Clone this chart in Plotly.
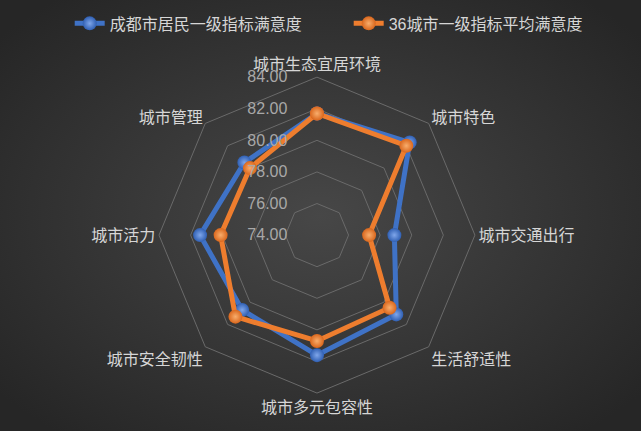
import plotly.graph_objects as go

# category labels, clockwise from top
categories = ["城市生态宜居环境", "城市特色", "城市交通出行", "生活舒适性",
              "城市多元包容性", "城市安全韧性", "城市活力", "城市管理"]

chengdu = [81.7, 82.3, 78.9, 81.1, 81.6, 80.7, 81.4, 80.5]
avg36 = [81.7, 82.0, 77.3, 80.5, 80.7, 81.3, 80.1, 80.0]

radial_ticks = [74, 76, 78, 80, 82, 84]
# padded so the labels sit a little left of the spoke, like excel does
radial_ticktext = [f"{v:.2f}" + "\u2007\u2007\u2007\u200b" for v in radial_ticks]

FONT = "Liberation Sans, Noto Sans CJK SC, sans-serif"

# radial gradient backdrop, like the excel chart area
bg_svg = (
    "data:image/svg+xml;utf8,"
    "<svg xmlns='http://www.w3.org/2000/svg' width='641' height='431'>"
    "<defs><radialGradient id='g' cx='50%' cy='50%' r='65%'>"
    "<stop offset='0%' stop-color='%23474747'/>"
    "<stop offset='100%' stop-color='%23262626'/>"
    "</radialGradient></defs>"
    "<rect width='641' height='431' fill='url(%23g)'/></svg>"
)


def closed(vals):
    return vals + vals[:1]


fig = go.Figure()

fig.add_trace(go.Scatterpolar(
    r=closed(chengdu), theta=closed(categories),
    mode="lines+markers", name="成都市居民一级指标满意度",
    line=dict(color="#3f72c6", width=5),
    marker=dict(size=14, color="#2f5fb3",
                gradient=dict(type="radial", color="#7fa6ea")),
))

fig.add_trace(go.Scatterpolar(
    r=closed(avg36), theta=closed(categories),
    mode="lines+markers", name="36城市一级指标平均满意度",
    line=dict(color="#ee7d2e", width=5),
    marker=dict(size=14, color="#d9661c",
                gradient=dict(type="radial", color="#f8ad6c")),
))

fig.update_layout(
    width=641, height=431,
    margin=dict(l=0, r=0, t=0, b=0),
    paper_bgcolor="#353535",
    font=dict(family=FONT, color="#d6d6d6"),
    images=[dict(source=bg_svg, xref="paper", yref="paper", x=0, y=1,
                 sizex=1, sizey=1, sizing="stretch", layer="below")],
    polar=dict(
        domain=dict(x=[0.248, 0.741], y=[0.088, 0.821]),
        bgcolor="rgba(0,0,0,0)",
        gridshape="linear",
        radialaxis=dict(
            range=[74, 84], tickvals=radial_ticks, ticktext=radial_ticktext,
            angle=90, tickangle=90, side="counterclockwise",
            showline=False, ticks="",
            gridcolor="#6a6a6a", gridwidth=1,
            tickfont=dict(size=16, color="#a8a8a8"),
        ),
        angularaxis=dict(
            rotation=90, direction="clockwise",
            showgrid=False, linecolor="#6a6a6a", linewidth=1,
            ticks="", tickfont=dict(size=16, color="#d6d6d6"),
        ),
    ),
    legend=dict(orientation="h", x=0.544, xanchor="center", y=0.985, yanchor="top",
                font=dict(size=16, color="#d6d6d6"), bgcolor="rgba(0,0,0,0)",
                itemwidth=30, entrywidth=234, entrywidthmode="pixels"),
    showlegend=True,
)

fig.write_html("out.html", config={"displayModeBar": False},
               post_script="document.body.style.margin='0';")
